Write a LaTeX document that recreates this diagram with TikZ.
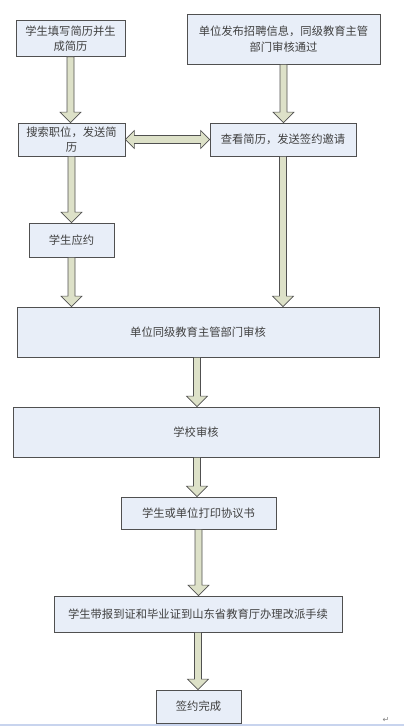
\documentclass[tikz,border=0pt]{standalone}
\usepackage{fontspec}
\newfontfamily\cjk{Noto Sans CJK SC}
\newfontfamily\dejavu{DejaVu Sans}
\usetikzlibrary{calc}
\definecolor{boxfill}{HTML}{E8EEF8}
\definecolor{boxline}{HTML}{505050}
\definecolor{arrfill}{HTML}{DDE1C8}
\definecolor{arrline}{HTML}{505050}
\definecolor{txt}{HTML}{404040}
\definecolor{rule}{HTML}{C8D4EE}
\newcommand\blockdown[2]{%
  \filldraw[arrowstyle] let \p1=(#1), \p2=(#2) in
    (\x1-3.5pt,\y1) -- (\x1-3.5pt,\y2+10.5pt) -- (\x1-10.5pt,\y2+10.5pt) -- (\x1,\y2)
    -- (\x1+10.5pt,\y2+10.5pt) -- (\x1+3.5pt,\y2+10.5pt) -- (\x1+3.5pt,\y1) -- cycle;}
\newcommand\blockboth[2]{%
  \filldraw[arrowstyle] let \p1=(#1), \p2=(#2) in
    (\x1,\y1) -- (\x1+9pt,\y1+9pt) -- (\x1+9pt,\y1+4pt) -- (\x2-9pt,\y1+4pt) -- (\x2-9pt,\y1+9pt)
    -- (\x2,\y1) -- (\x2-9pt,\y1-9pt) -- (\x2-9pt,\y1-4pt) -- (\x1+9pt,\y1-4pt) -- (\x1+9pt,\y1-9pt) -- cycle;}
\tikzset{
  boxstyle/.style={draw=boxline, fill=boxfill, line width=0.8pt, inner sep=0pt,
    text=txt, font=\cjk\fontsize{11.3}{15.5}\selectfont, align=center},
  arrowstyle/.style={fill=arrfill, draw=arrline, line width=0.6pt, line join=miter}
}
\begin{document}
\begin{tikzpicture}[x=1pt,y=1pt]
\useasboundingbox (0,0) rectangle (404,-726);
\node[boxstyle, minimum width=109pt, minimum height=36pt] (b1) at (70.5,-38.5) {学生填写简历并生\\成简历};
\node[boxstyle, minimum width=193pt, minimum height=50pt] (b2) at (283.5,-39) {单位发布招聘信息，同级教育主管\\部门审核通过};
\node[boxstyle, minimum width=107pt, minimum height=33pt] (b3) at (71.5,-139.5) {搜索职位，发送简\\历};
\node[boxstyle, minimum width=146pt, minimum height=33pt] (b4) at (283,-139.5) {查看简历，发送签约邀请};
\node[boxstyle, minimum width=85pt, minimum height=34pt] (b5) at (71.5,-240) {学生应约};
\node[boxstyle, minimum width=362pt, minimum height=50pt] (b6) at (198,-332) {单位同级教育主管部门审核};
\node[boxstyle, minimum width=366pt, minimum height=50pt] (b7) at (196,-432) {学校审核};
\node[boxstyle, minimum width=155pt, minimum height=32pt] (b8) at (198.5,-513) {学生或单位打印协议书};
\node[boxstyle, minimum width=288pt, minimum height=36pt] (b9) at (198,-614) {学生带报到证和毕业证到山东省教育厅办理改派手续};
\node[boxstyle, minimum width=85pt, minimum height=33pt] (b10) at (198.5,-706.5) {签约完成};
\blockdown{b1.south}{b3.north}
\blockdown{b2.south}{b2.south |- b4.north}
\blockdown{b3.south}{b5.north}
\blockdown{b5.south}{b5.south |- b6.north}
\blockdown{b4.south}{b4.south |- b6.north}
\blockdown{$(b6.south)+(-1,0)$}{$(b6.south |- b7.north)+(-1,0)$}
\blockdown{$(b7.south)+(1,0)$}{$(b7.south |- b8.north)+(1,0)$}
\blockdown{b8.south}{b8.south |- b9.north}
\blockdown{b9.south}{b9.south |- b10.north}
\blockboth{b3.east}{b4.west}
\fill[rule] (0,-723.5) rectangle (404,-726);
\node[font=\dejavu\fontsize{8}{8}\selectfont, text=gray, inner sep=0pt] (mark) at (386,-719.5) {↵};
\end{tikzpicture}
\end{document}
